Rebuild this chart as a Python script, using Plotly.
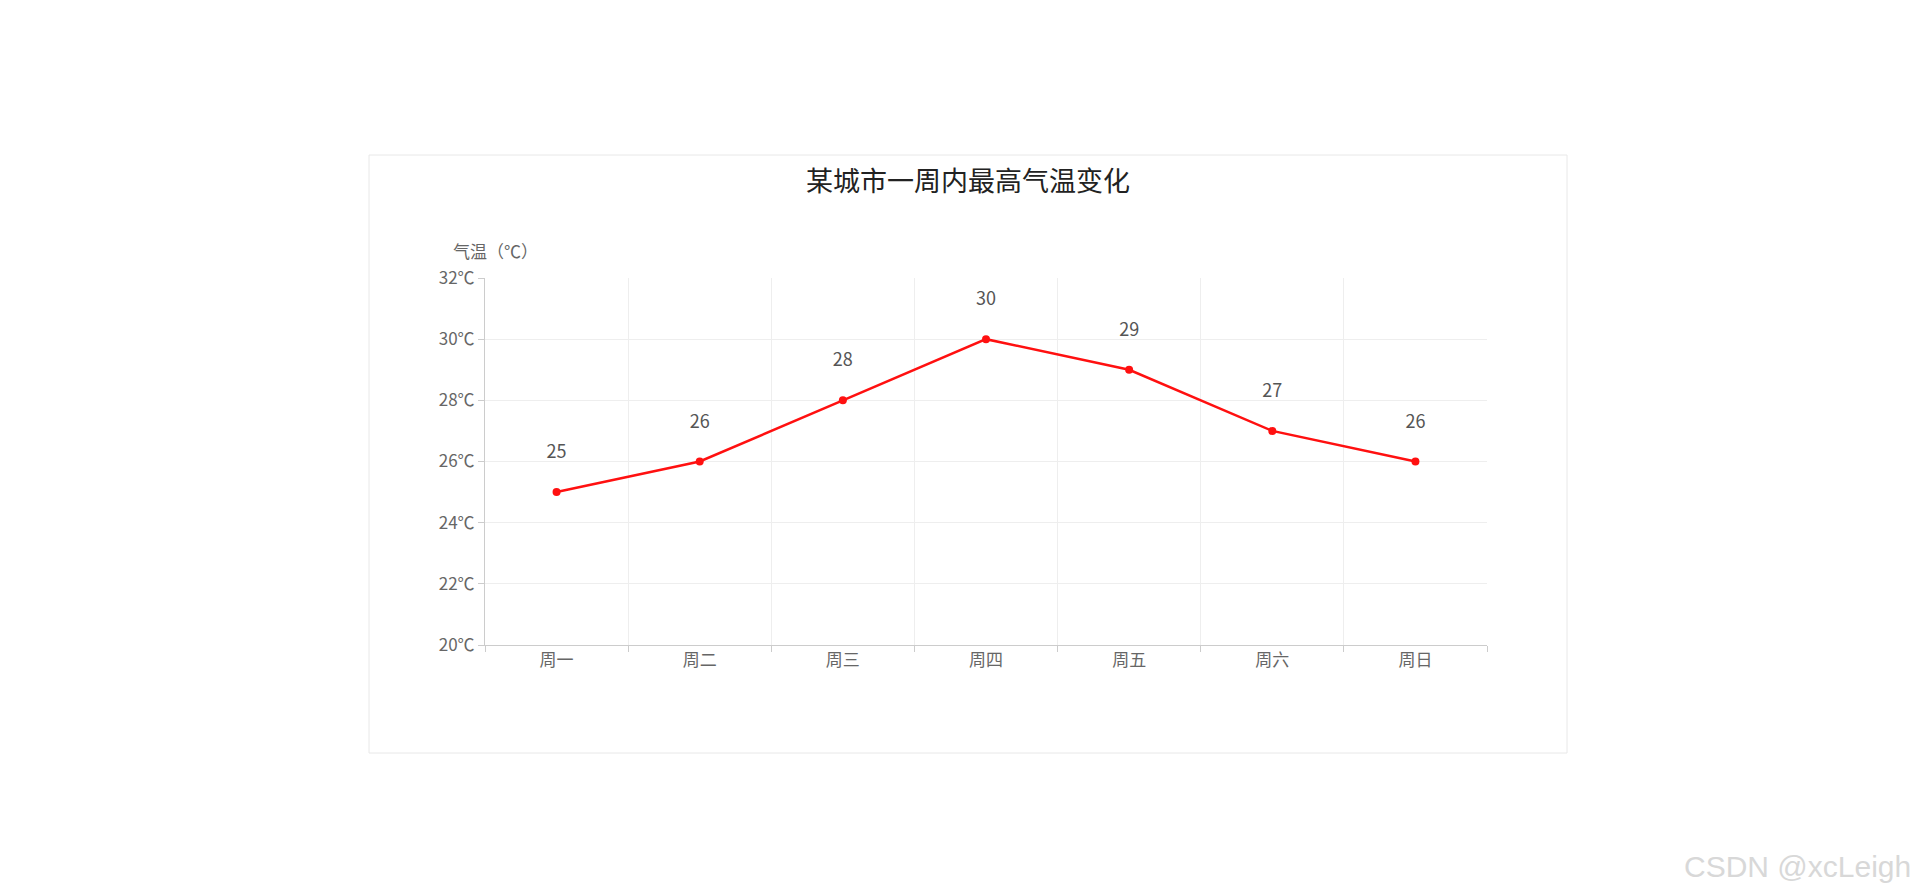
import plotly.graph_objects as go

days = ["周一", "周二", "周三", "周四", "周五", "周六", "周日"]
temps = [25, 26, 28, 30, 29, 27, 26]
y_ticks = [20, 22, 24, 26, 28, 30, 32]
y_tick_text = [f"{v}℃" for v in y_ticks]

W, H = 1920, 890
L, R, T, B = 477, 1479, 270, 637
font = "Noto Sans CJK SC"

x = list(range(len(days)))
fig = go.Figure()
fig.add_trace(go.Scatter(
    x=x, y=temps, mode="lines+markers+text",
    line=dict(color="#ff1010", width=2.5),
    marker=dict(color="#ff1010", size=8),
    text=[str(t) + "<br> " for t in temps], textposition="top center",
    textfont=dict(size=18, color="#555", family=font),
    cliponaxis=False, showlegend=False, hoverinfo="skip",
))
fig.add_trace(go.Scatter(x=[-0.5, 6.5], y=[20, 20], xaxis="x2", mode="markers",
                         marker=dict(opacity=0), showlegend=False, hoverinfo="skip"))

fig.update_layout(
    width=W, height=H, paper_bgcolor="white", plot_bgcolor="white",
    margin=dict(l=L, r=W - R, t=T, b=H - B),
    font=dict(family=font, color="#666"),
    xaxis=dict(range=[-0.5, 6.5], tickvals=x, ticktext=days, showgrid=False,
               zeroline=False, tickfont=dict(size=17, color="#666"), ticks="",
               showline=True, linecolor="#ccc", linewidth=1),
    xaxis2=dict(range=[-0.5, 6.5], overlaying="x", tickvals=[i - 0.5 for i in range(8)],
                showticklabels=False, showgrid=True, gridcolor="#eeeeee", ticks="outside",
                ticklen=6, tickcolor="#ccc", side="bottom", zeroline=False),
    yaxis=dict(range=[20, 32], tickvals=y_ticks, ticktext=y_tick_text, showgrid=True,
               gridcolor="#eeeeee", zeroline=False, ticks="outside", ticklen=6,
               tickcolor="#ccc", showline=True, linecolor="#ccc",
               tickfont=dict(size=17, color="#666")),
    title=dict(text="某城市一周内最高气温变化", x=(960 - 0) / W, xanchor="center", y=1 - 174 / H,
               yanchor="middle", font=dict(size=27, color="#222", family=font)),
    shapes=[dict(type="rect", xref="paper", yref="paper",
                 x0=(361 - L) / (R - L), x1=(1559 - L) / (R - L),
                 y0=(B - 745) / (B - T), y1=(B - 147) / (B - T),
                 line=dict(color="#e8e8e8", width=1), fillcolor="rgba(0,0,0,0)", layer="below")],
    annotations=[
        dict(text="气温（℃）", xref="paper", yref="paper", x=(443 - L) / (R - L),
             y=(B - 242) / (B - T), xanchor="left", yanchor="middle", showarrow=False,
             font=dict(size=17, color="#666")),
        dict(text="CSDN @xcLeigh", xref="paper", yref="paper", x=(1905 - L) / (R - L),
             y=(B - 858) / (B - T), xanchor="right", yanchor="middle", showarrow=False,
             font=dict(size=30, color="#d8d8d8", family="Liberation Sans")),
    ],
)
fig.write_html("out.html")
